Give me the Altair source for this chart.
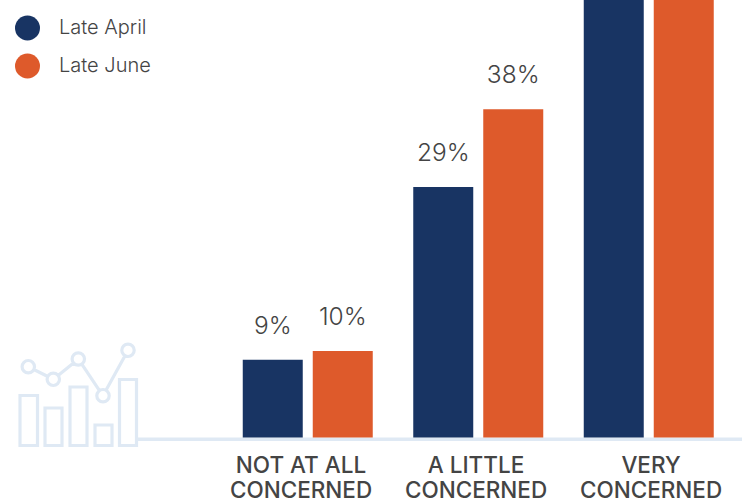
import math
import altair as alt
import pandas as pd

groups = ["NOT AT ALL|CONCERNED", "A LITTLE|CONCERNED", "VERY|CONCERNED"]
periods = ["Late April", "Late June"]
april = [9, 29, 62]
june = [10, 38, 52]
colors = ["#183463", "#de5a2b"]
ink = "#444444"
pale = "#dfe9f4"
font = "Inter"
y_top = 50

rows = [
    {"group": g, "period": p, "value": v}
    for p, series in zip(periods, [april, june])
    for g, v in zip(groups, series)
]
df = pd.DataFrame(rows)
df["label"] = df["value"].astype(str) + "%"
cats = pd.DataFrame({"group": groups})

# Decorative chart-and-bars glyph at the left end of the baseline
glyph_bars = [(20, 37.5, 395.5), (45, 62, 408), (70, 87, 387), (95, 112, 425), (119.5, 136.5, 379.5)]
glyph_dots = [(28.3, 366.7), (53.3, 379.3), (78.3, 359), (103, 395.7), (128, 350.3)]
glyph_r = 6.2


def glyph_path():
    parts = []
    for x0, x1, top in glyph_bars:
        parts.append(f"M{x0} {top}H{x1}V445.5H{x0}Z")
    for (x, y) in glyph_dots:
        parts.append(f"M{x - glyph_r} {y}a{glyph_r} {glyph_r} 0 1 0 {2 * glyph_r} 0a{glyph_r} {glyph_r} 0 1 0 {-2 * glyph_r} 0Z")
    for (xa, ya), (xb, yb) in zip(glyph_dots, glyph_dots[1:]):
        d = math.hypot(xb - xa, yb - ya)
        ux, uy = (xb - xa) / d, (yb - ya) / d
        parts.append(
            f"M{xa + ux * glyph_r:.1f} {ya + uy * glyph_r:.1f}"
            f"L{xb - ux * glyph_r:.1f} {yb - uy * glyph_r:.1f}"
        )
    return "".join(parts)


x_scale = alt.Scale(domain=groups, range=[222.5, 734], paddingInner=0, paddingOuter=0)
y_scale = alt.Scale(domain=[0, y_top], range=[437.5, 5.5])
offset_scale = alt.Scale(domain=periods, range=[15.25, 155.25], paddingInner=0, paddingOuter=0)

x_enc = alt.X("group:N", scale=x_scale, sort=groups, axis=None)
offset_enc = alt.XOffset("period:N", scale=offset_scale, sort=periods)
y_enc = alt.Y("value:Q", scale=y_scale, axis=None)

baseline = alt.Chart(cats.head(1)).mark_rule(color=pale, strokeWidth=3.5).encode(
    x=alt.value(138), x2=alt.value(742), y=alt.value(439.2)
)

glyph = alt.Chart(cats.head(1)).mark_point(
    shape=glyph_path(), size=4, filled=False, stroke=pale, strokeWidth=3.2, opacity=1
).encode(x=alt.value(0), y=alt.value(0))

bars = alt.Chart(df).mark_bar(width=60).encode(
    x=x_enc,
    xOffset=offset_enc,
    y=y_enc,
    color=alt.Color(
        "period:N",
        scale=alt.Scale(domain=periods, range=colors),
        legend=alt.Legend(
            title=None,
            orient="none",
            legendX=15,
            legendY=15.5,
            symbolType="circle",
            symbolSize=625,
            symbolStrokeWidth=0,
            labelFont=font,
            labelFontSize=20,
            labelFontWeight=300,
            labelColor=ink,
            labelOffset=19,
            rowPadding=13,
        ),
    ),
)

# Bars taller than the visible range run off the top, so only the others carry a label
values = alt.Chart(df).transform_filter(f"datum.value < {y_top}").mark_text(
    font=font, fontSize=24.5, fontWeight=300, color=ink, dy=-33, baseline="middle"
).encode(x=x_enc, xOffset=offset_enc, y=y_enc, text="label:N")

plot = alt.layer(baseline, glyph, bars, values)

ticks = alt.Chart(cats).mark_text(
    font=font, fontSize=22.5, fontWeight=500, color=ink, lineBreak="|",
    lineHeight=25, baseline="top",
).encode(
    x=alt.X("group:N", sort=groups,
            scale=alt.Scale(domain=groups, range=[213.5, 738.5], paddingInner=0, paddingOuter=0),
            axis=None),
    y=alt.value(455),
    text="group:N",
)

chart = (
    alt.layer(plot, ticks)
    .resolve_scale(x="independent")
    .properties(width=745, height=500, padding=0, autosize=alt.AutoSizeParams(type="none"))
    .configure_view(stroke=None)
)

chart.save("out.html", embed_options={"renderer": "svg", "actions": False})
